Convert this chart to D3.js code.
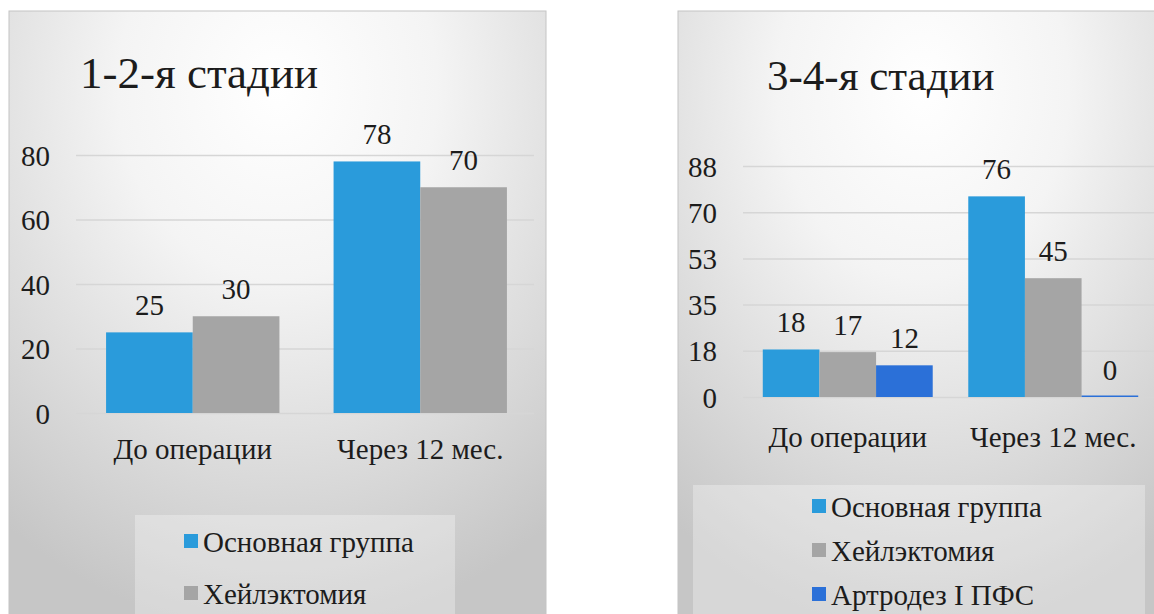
<!DOCTYPE html>
<html>
<head>
<meta charset="utf-8">
<script src="https://cdn.jsdelivr.net/npm/d3@7"></script>
<style>
  html, body { margin: 0; padding: 0; background: #ffffff; }
  svg { display: block; }
</style>
</head>
<body>
<svg id="chart" width="1154" height="614"></svg>
<script>
// Categories shared by both panels
const categories = ["До операции", "Через 12 мес."];

// Panel 1: stages 1-2
const stage12Title = "1-2-я стадии";
const stage12Series = ["Основная группа", "Хейлэктомия"];
const stage12Main = [25, 78];
const stage12Cheil = [30, 70];
const stage12Ticks = [0, 20, 40, 60, 80];

// Panel 2: stages 3-4
const stage34Title = "3-4-я стадии";
const stage34Series = ["Основная группа", "Хейлэктомия", "Артродез I ПФС"];
const stage34Main = [18, 76];
const stage34Cheil = [17, 45];
const stage34Arthro = [12, 0];
const stage34Ticks = [0, 17.5, 35, 52.5, 70, 87.5];

// Series colours
const seriesColors = ["#2A9BDB", "#A5A5A5", "#2B70D8"];

const FONT = '"Liberation Serif"';
const INK = "#1c1c1c";

const svg = d3.select("#chart");
const defs = svg.append("defs");

const grad = defs.append("radialGradient")
  .attr("id", "panelBg")
  .attr("cx", "50%").attr("cy", "12%").attr("r", "85%")
  .attr("fx", "50%").attr("fy", "12%");
grad.append("stop").attr("offset", "0%").attr("stop-color", "#ffffff");
grad.append("stop").attr("offset", "35%").attr("stop-color", "#f4f4f4");
grad.append("stop").attr("offset", "100%").attr("stop-color", "#c6c6c6");

function label(sel, size) {
  return sel.style("font-family", FONT).attr("font-size", size).attr("fill", INK);
}

function drawPanel(cfg) {
  const g = svg.append("g");

  // Card background
  g.append("rect")
    .attr("x", cfg.box[0]).attr("y", cfg.box[1])
    .attr("width", cfg.box[2]).attr("height", cfg.box[3])
    .attr("fill", "url(#panelBg)")
    .attr("stroke", "#c4c4c4").attr("stroke-width", 1);

  // Title
  label(g.append("text"), cfg.titleSize)
    .attr("x", cfg.titlePos[0]).attr("y", cfg.titlePos[1])
    .text(cfg.title);

  const x0 = d3.scaleBand()
    .domain(categories)
    .range(cfg.xRange)
    .paddingInner(cfg.gap)
    .paddingOuter(cfg.gap / 2);

  const x1 = d3.scaleBand()
    .domain(d3.range(cfg.series.length))
    .range([0, x0.bandwidth()]);

  const y = d3.scaleLinear()
    .domain([0, d3.max(cfg.ticks)])
    .range(cfg.yRange);

  // Horizontal gridlines and value axis labels
  const yAxis = d3.axisLeft(y)
    .tickValues(cfg.ticks)
    .tickFormat(d3.format(".0f"))
    .tickSize(-(cfg.gridEnd - cfg.gridStart))
    .tickPadding(cfg.gridStart - cfg.tickLabelX);

  const ya = g.append("g")
    .attr("transform", `translate(${cfg.gridStart},0)`)
    .call(yAxis)
    .attr("font-family", null);
  ya.select(".domain").remove();
  ya.selectAll(".tick line")
    .attr("stroke", "#d6d6d6").attr("stroke-width", 1.5);
  label(ya.selectAll(".tick text"), cfg.fontSize)
    .attr("dy", "0.35em");

  // Bars with their value labels
  const groups = g.selectAll(".cat")
    .data(categories)
    .join("g")
    .attr("transform", d => `translate(${x0(d)},0)`);

  groups.each(function(cat, ci) {
    const cg = d3.select(this);
    cfg.values.forEach((vals, si) => {
      const v = vals[ci];
      const h = Math.max(y(0) - y(v), 1.5);
      cg.append("rect")
        .attr("x", x1(si))
        .attr("y", y(0) - h)
        .attr("width", x1.bandwidth())
        .attr("height", h)
        .attr("fill", seriesColors[si]);
      label(cg.append("text"), cfg.fontSize)
        .attr("x", x1(si) + x1.bandwidth() / 2)
        .attr("y", y(v) - cfg.labelGap)
        .attr("text-anchor", "middle")
        .text(v);
    });
  });

  // Category axis labels
  label(g.selectAll(".catLabel").data(categories).join("text"), cfg.fontSize)
    .attr("x", d => x0(d) + x0.bandwidth() / 2)
    .attr("y", cfg.catLabelY)
    .attr("text-anchor", "middle")
    .text(d => d);

  // Legend
  g.append("rect")
    .attr("x", cfg.legendBox[0]).attr("y", cfg.legendBox[1])
    .attr("width", cfg.legendBox[2]).attr("height", cfg.legendBox[3])
    .attr("fill", "#ffffff").attr("fill-opacity", 0.3);

  cfg.series.forEach((name, si) => {
    const by = cfg.legendY + si * cfg.legendStep;
    g.append("rect")
      .attr("x", cfg.swatchX)
      .attr("y", by - cfg.swatch - 4)
      .attr("width", cfg.swatch).attr("height", cfg.swatch)
      .attr("fill", seriesColors[si]);
    label(g.append("text"), cfg.fontSize)
      .attr("x", cfg.swatchX + cfg.swatch + 5)
      .attr("y", by)
      .text(name);
  });
}

drawPanel({
  box: [9, 11, 537, 640],
  title: stage12Title, titlePos: [80, 88], titleSize: 45,
  series: stage12Series,
  values: [stage12Main, stage12Cheil],
  ticks: stage12Ticks,
  xRange: [79, 534], gap: 0.238,
  yRange: [413, 155],
  gridStart: 76, gridEnd: 534, tickLabelX: 50,
  fontSize: 29, labelGap: 17,
  catLabelY: 459,
  legendBox: [135, 515, 320, 120],
  swatchX: 184, swatch: 14, legendY: 552, legendStep: 52
});

drawPanel({
  box: [678, 11, 490, 640],
  title: stage34Title, titlePos: [767, 90], titleSize: 43,
  series: stage34Series,
  values: [stage34Main, stage34Cheil, stage34Arthro],
  ticks: stage34Ticks,
  xRange: [745, 1156], gap: 0.173,
  yRange: [397, 166],
  gridStart: 743, gridEnd: 1154, tickLabelX: 717,
  fontSize: 29, labelGap: 17,
  catLabelY: 447,
  legendBox: [693, 485, 452, 140],
  swatchX: 812, swatch: 14, legendY: 517, legendStep: 44
});
</script>
</body>
</html>
